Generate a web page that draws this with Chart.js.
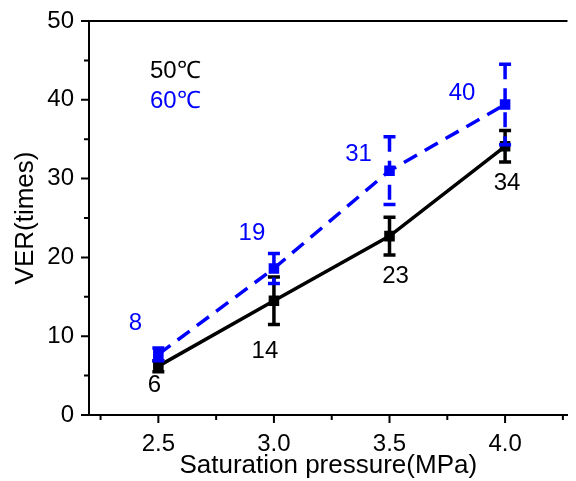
<!DOCTYPE html>
<html>
<head>
<meta charset="utf-8">
<script src="https://cdn.jsdelivr.net/npm/chart.js@4.4.1/dist/chart.umd.min.js"></script>
<style>
  html, body { margin: 0; padding: 0; background: #fff; overflow: hidden; }
  #wrap { width: 576px; height: 481px; position: relative; }
</style>
</head>
<body>
<div id="wrap"><canvas id="chart" width="576" height="481"></canvas></div>
<script>
// data
const pressures = [2.5, 3.0, 3.5, 4.0];
const ver50 = [6.2, 14.5, 22.7, 34.1];
const err50 = [0.7, 3.0, 2.4, 2.0];
const ver60 = [7.7, 18.6, 31.0, 39.4];
const err60 = [0.8, 1.9, 4.3, 5.1];
const labels50 = ['6', '14', '23', '34'];
const labels60 = ['8', '19', '31', '40'];
const xMajorTicks = [2.5, 3.0, 3.5, 4.0];
const xMinorTicks = [2.25, 2.75, 3.25, 3.75, 4.25];
const yMajorTicks = [0, 10, 20, 30, 40, 50];
const yMinorTicks = [5, 15, 25, 35, 45];

const FONT = '"Liberation Sans", Arial, sans-serif';
const FSIZE = 24;
const TSIZE = 26;
const BLUE = '#0000ff';

// label offsets from the point (px)
const offsets50 = [[-4, 19], [-9, 51], [6, 40], [2, 37]];
const offsets60 = [[-23, -31], [-22, -35], [-31, -16], [-43, -11]];

const toPoints = (ys) => pressures.map((x, i) => ({ x, y: ys[i] }));

// error bars, data labels and hand ticks
const extras = {
  id: 'extras',
  afterDatasetsDraw(chart) {
    const { ctx, scales: { x, y } } = chart;
    const series = [
      { vals: ver50, errs: err50, color: '#000', dash: [], labels: labels50, offs: offsets50 },
      { vals: ver60, errs: err60, color: BLUE, dash: [15, 9], labels: labels60, offs: offsets60 },
    ];
    ctx.save();
    series.forEach(s => {
      s.vals.forEach((v, i) => {
        const px = x.getPixelForValue(pressures[i]);
        const top = y.getPixelForValue(v + s.errs[i]);
        const bot = y.getPixelForValue(v - s.errs[i]);
        ctx.strokeStyle = s.color;
        ctx.lineWidth = 3.5;
        ctx.setLineDash(s.dash);
        ctx.beginPath();
        ctx.moveTo(px, top);
        ctx.lineTo(px, bot);
        ctx.stroke();
        ctx.setLineDash([]);
        ctx.beginPath();
        ctx.moveTo(px - 6, top);
        ctx.lineTo(px + 6, top);
        ctx.moveTo(px - 6, bot);
        ctx.lineTo(px + 6, bot);
        ctx.stroke();
      });
    });
    series.forEach(s => {
      ctx.fillStyle = s.color;
      ctx.font = FSIZE + 'px ' + FONT;
      ctx.textAlign = 'center';
      ctx.textBaseline = 'middle';
      s.vals.forEach((v, i) => {
        const px = x.getPixelForValue(pressures[i]);
        const py = y.getPixelForValue(v);
        ctx.fillText(s.labels[i], px + s.offs[i][0], py + s.offs[i][1]);
      });
    });

    // ticks (outward)
    ctx.strokeStyle = '#000';
    ctx.lineWidth = 2;
    const left = chart.chartArea.left, bottom = chart.chartArea.bottom;
    ctx.beginPath();
    xMajorTicks.forEach(t => { const p = x.getPixelForValue(t); ctx.moveTo(p, bottom); ctx.lineTo(p, bottom + 8); });
    xMinorTicks.forEach(t => { const p = x.getPixelForValue(t); ctx.moveTo(p, bottom); ctx.lineTo(p, bottom + 5); });
    yMajorTicks.forEach(t => { const p = y.getPixelForValue(t); ctx.moveTo(left, p); ctx.lineTo(left - 8, p); });
    yMinorTicks.forEach(t => { const p = y.getPixelForValue(t); ctx.moveTo(left, p); ctx.lineTo(left - 5, p); });
    ctx.stroke();
    // top frame line
    ctx.beginPath();
    ctx.moveTo(left, chart.chartArea.top);
    ctx.lineTo(chart.chartArea.right, chart.chartArea.top);
    ctx.stroke();

    // legend text
    ctx.font = FSIZE + 'px ' + FONT;
    ctx.textAlign = 'left';
    ctx.textBaseline = 'middle';
    ctx.fillStyle = '#000';
    ctx.fillText('50℃', 150, 71);
    ctx.fillStyle = BLUE;
    ctx.fillText('60℃', 150, 101);
    ctx.restore();
  }
};

new Chart(document.getElementById('chart'), {
  type: 'line',
  data: {
    datasets: [
      {
        label: '50℃',
        data: toPoints(ver50),
        borderColor: '#000',
        backgroundColor: '#000',
        borderWidth: 3.5,
        pointStyle: 'rect',
        pointRadius: 5,
        tension: 0,
      },
      {
        label: '60℃',
        data: toPoints(ver60),
        borderColor: BLUE,
        backgroundColor: BLUE,
        borderWidth: 3.5,
        borderDash: [15, 9],
        pointStyle: 'rect',
        pointRadius: 5,
        tension: 0,
      },
    ],
  },
  options: {
    responsive: false,
    animation: false,
    layout: { padding: { top: 21, right: 0, left: 0, bottom: 0 } },
    plugins: { legend: { display: false }, tooltip: { enabled: false } },
    scales: {
      x: {
        type: 'linear',
        min: 2.2,
        max: 4.27,
        afterBuildTicks: (axis) => { axis.ticks = xMajorTicks.map(v => ({ value: v })); },
        afterFit: (axis) => { axis.height = 66; axis.paddingLeft = 0; axis.paddingRight = 0; },
        grid: { display: false, drawTicks: false },
        border: { display: true, color: '#000', width: 2 },
        ticks: {
          padding: 15,
          color: '#000',
          font: { family: FONT, size: FSIZE },
          callback: (v) => v.toFixed(1),
        },
        title: {
          display: true,
          text: 'Saturation pressure(MPa)',
          color: '#000',
          font: { family: FONT, size: TSIZE },
          padding: { top: 0, bottom: 0 },
        },
      },
      y: {
        min: 0,
        max: 50,
        afterBuildTicks: (axis) => { axis.ticks = yMajorTicks.map(v => ({ value: v })); },
        afterFit: (axis) => { axis.width = 89; axis.paddingTop = 0; axis.paddingBottom = 0; },
        grid: { display: false, drawTicks: false },
        border: { display: true, color: '#000', width: 2 },
        ticks: {
          padding: 15,
          color: '#000',
          font: { family: FONT, size: FSIZE },
        },
        title: {
          display: true,
          text: 'VER(times)',
          color: '#000',
          font: { family: FONT, size: TSIZE },
          padding: { top: 10, bottom: 6 },
        },
      },
    },
  },
  plugins: [extras],
});
</script>
</body>
</html>
